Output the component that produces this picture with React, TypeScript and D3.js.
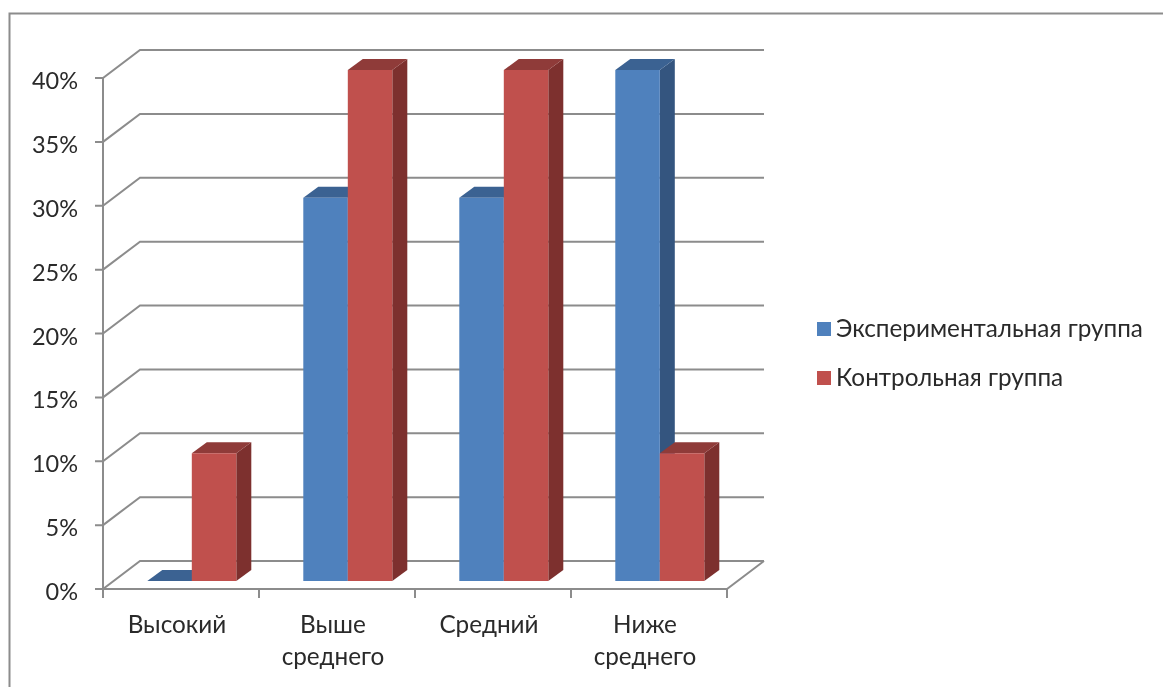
import * as d3 from "d3";
import { useEffect, useRef } from "react";

const categories = ["Высокий", "Выше среднего", "Средний", "Ниже среднего"];
const categoryLines = [["Высокий"], ["Выше", "среднего"], ["Средний"], ["Ниже", "среднего"]];
const seriesNames = ["Экспериментальная группа", "Контрольная группа"];
const experimental = [0, 30, 30, 40];
const control = [10, 40, 40, 10];
const yTicks = [0, 5, 10, 15, 20, 25, 30, 35, 40];

const fontFamily = "Lato, Carlito, 'Open Sans', sans-serif";
const gridColor = "#8c8c8c";
const colors = [
  { front: "#4f81bd", side: "#34557f", top: "#3b6292" },
  { front: "#c0504d", side: "#7d302e", top: "#8f3b39" },
];

const App = () => {
  const chartRef = useRef<SVGSVGElement | null>(null);

  useEffect(() => {
    if (!chartRef.current) return;
    const svg = d3.select(chartRef.current);
    svg.selectAll("*").remove();

    const xScale = d3.scaleBand().domain(categories).range([103, 727]);
    const yScale = d3.scaleLinear().domain([0, 40]).range([589, 78]);
    const seriesScale = d3.scaleBand().domain(["0", "1"]).range([0, 89]);

    const wall = { dx: 37, dy: -28 }; // 바닥 깊이
    const shift = { dx: 10.8, dy: -8 }; // 막대 앞면 위치
    const depth = { dx: 15, dy: -11 }; // 막대 두께

    // 바깥 테두리
    svg
      .append("path")
      .attr("d", "M9.5,700V13.5H1170")
      .attr("fill", "none")
      .attr("stroke", gridColor)
      .attr("stroke-width", 2);

    const grid = svg.append("g").attr("fill", "none").attr("stroke", gridColor).attr("stroke-width", 2);

    // 눈금선 (옆면 + 뒷면)
    grid
      .selectAll("path")
      .data(yTicks)
      .join("path")
      .attr("d", (d) => {
        const y = yScale(d);
        return `M95,${y}H103L${103 + wall.dx},${y + wall.dy}H${727 + wall.dx}`;
      });

    // Y축, 바닥
    grid.append("path").attr("d", `M103,${yScale(40)}V${yScale(0)}H727l${wall.dx},${wall.dy}`);

    // X축 눈금
    const xEdges = [...categories.map((c) => xScale(c)!), 727];
    grid
      .append("g")
      .selectAll("line")
      .data(xEdges)
      .join("line")
      .attr("x1", (d) => d)
      .attr("x2", (d) => d)
      .attr("y1", yScale(0))
      .attr("y2", yScale(0) + 9);

    // 막대
    const barWidth = seriesScale.bandwidth();
    const barsG = svg.append("g");
    categories.forEach((cat, i) => {
      [experimental[i], control[i]].forEach((value, s) => {
        const c = colors[s];
        const x0 = xScale(cat)! + (xScale.bandwidth() - 89) / 2 + shift.dx + seriesScale(String(s))!;
        const x1 = x0 + barWidth;
        const yTop = yScale(value) + shift.dy;
        const yBase = yScale(0) + shift.dy;
        const g = barsG.append("g");
        g.append("path")
          .attr("d", `M${x1},${yTop}l${depth.dx},${depth.dy}V${yBase + depth.dy}L${x1},${yBase}Z`)
          .attr("fill", c.side);
        g.append("path")
          .attr("d", `M${x0},${yTop}l${depth.dx},${depth.dy}H${x1 + depth.dx}L${x1},${yTop}Z`)
          .attr("fill", c.top);
        if (value > 0) {
          g.append("rect")
            .attr("x", x0)
            .attr("y", yTop)
            .attr("width", barWidth)
            .attr("height", yBase - yTop)
            .attr("fill", c.front);
        }
      });
    });

    const text = svg.append("g").attr("font-family", fontFamily).attr("font-size", 24.3).attr("fill", "#2a2a2a");

    // Y축 라벨
    text
      .append("g")
      .attr("font-size", 23.5)
      .selectAll("text")
      .data(yTicks)
      .join("text")
      .attr("x", 78)
      .attr("y", (d) => yScale(d) + 11)
      .attr("text-anchor", "end")
      .text((d) => `${d}%`);

    // X축 라벨
    categories.forEach((cat, i) => {
      const cx = xScale(cat)! + xScale.bandwidth() / 2 - 4;
      categoryLines[i].forEach((line, j) => {
        text
          .append("text")
          .attr("x", cx)
          .attr("y", 633 + j * 32)
          .attr("text-anchor", "middle")
          .text(line);
      });
    });

    // 범례
    seriesNames.forEach((name, i) => {
      const y = 329 + i * 49;
      svg
        .append("rect")
        .attr("x", 817)
        .attr("y", y - 7)
        .attr("width", 14)
        .attr("height", 14)
        .attr("fill", colors[i].front);
      text
        .append("text")
        .attr("x", 836)
        .attr("y", y + 8)
        .text(name);
    });
  }, []);

  return (
    <svg
      ref={chartRef}
      width={1163}
      height={687}
      style={{ position: "absolute", left: 0, top: 0, display: "block", background: "#fff", filter: "blur(0.5px)" }}
    />
  );
};

export default App;
